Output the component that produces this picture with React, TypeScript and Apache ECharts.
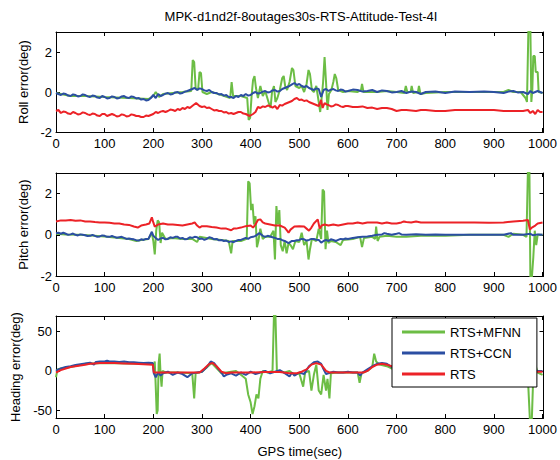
import React, { useEffect, useRef } from "react";
import * as echarts from "echarts";

const FONT = '"Liberation Sans", Arial, Helvetica, sans-serif';

const TITLE = "MPK-d1nd2f-8outages30s-RTS-Attitude-Test-4I";
const SERIES_NAMES = ["RTS+MFNN", "RTS+CCN", "RTS"];
const SERIES_COLORS = ["#6cbd45", "#2b4ea2", "#ec2227"];
const X_TICKS = [0, 100, 200, 300, 400, 500, 600, 700, 800, 900, 1000];
const ATT_TICKS = [-2, 0, 2];
const HEAD_TICKS = [-50, 0, 50];
const Y_NAMES = ["Roll error(deg)", "Pitch error(deg)", "Heading error(deg)"];
const X_NAME = "GPS time(sec)";

// ---- Roll (deg) ----
const rollMFNN = [[0,-0.05],[10,-0.1],[30,-0.2],[60,-0.2],[100,-0.25],[150,-0.3],[190,-0.35],[200,-0.2],[205,0.0],[212,-0.25],[220,-0.1],[240,-0.05],[260,0.0],[278,0.05],[281,1.6],[284,1.5],[287,0.2],[292,0.1],[295,1.0],[298,0.95],[301,0.0],[310,-0.1],[320,0],[340,-0.15],[358,-0.3],[361,0.5],[364,-0.2],[380,-0.2],[393,-0.3],[396,-1.4],[399,-1.3],[402,-0.2],[405,0.6],[408,0.8],[411,0.2],[415,-0.3],[420,0.3],[425,-0.2],[430,0.05],[438,-0.6],[441,-0.8],[444,0.0],[448,0.3],[451,-0.5],[455,-0.3],[460,0.1],[465,0.7],[468,0.8],[471,0.3],[475,0.1],[480,0.5],[485,1.2],[488,1.1],[492,0.3],[500,0.2],[505,0.3],[510,0.0],[515,0.4],[519,1.1],[522,0.9],[526,0.1],[530,0.0],[535,0.3],[540,-0.5],[543,-1.0],[546,-0.3],[549,0.5],[552,1.75],[555,0.5],[558,-0.9],[561,-0.1],[566,0.1],[570,0.5],[573,0.9],[576,0.7],[580,0.1],[590,0.0],[600,0.05],[620,0.0],[627,0.1],[629,0.4],[632,0.0],[660,0.0],[680,0.05],[700,0.0],[716,-0.05],[719,0.3],[722,0.0],[729,0.0],[731,0.3],[734,-0.05],[744,0.0],[746,0.3],[749,-0.1],[760,-0.05],[800,0.0],[850,0.0],[900,0.0],[920,0.0],[930,0.1],[940,0.0],[955,0.0],[965,-0.3],[968,-0.5],[971,3.2],[975,3.2],[977,-0.5],[979,0.1],[981,1.8],[984,1.8],[986,1.0],[990,1.0],[992,0.0],[1000,-0.05]];
const rollCCN = [[0,-0.05],[5,-0.1],[10,-0.15],[15,-0.08],[20,-0.1],[25,-0.18],[30,-0.2],[35,-0.12],[40,-0.15],[45,-0.22],[50,-0.2],[55,-0.12],[60,-0.15],[65,-0.22],[70,-0.25],[75,-0.18],[80,-0.2],[85,-0.28],[90,-0.3],[95,-0.2],[100,-0.25],[105,-0.32],[110,-0.3],[115,-0.22],[120,-0.25],[125,-0.32],[130,-0.3],[135,-0.22],[140,-0.2],[145,-0.28],[150,-0.3],[155,-0.22],[160,-0.25],[165,-0.32],[170,-0.3],[175,-0.38],[180,-0.35],[185,-0.42],[190,-0.4],[195,-0.3],[200,-0.15],[205,-0.3],[210,-0.1],[215,-0.2],[220,-0.15],[225,-0.08],[230,-0.05],[235,-0.12],[240,-0.1],[245,-0.02],[250,0.0],[255,-0.08],[260,-0.05],[265,0.02],[270,0.05],[275,0.1],[280,0.15],[285,0.2],[290,0.1],[295,0.18],[300,0.15],[305,0.08],[310,0.05],[315,0.1],[320,0.0],[325,-0.05],[330,-0.05],[335,-0.12],[340,-0.1],[345,-0.18],[350,-0.15],[355,-0.25],[360,-0.25],[365,-0.3],[370,-0.2],[375,-0.25],[380,-0.15],[385,-0.2],[390,-0.1],[395,-0.18],[400,-0.15],[405,-0.05],[410,0.0],[415,-0.08],[420,-0.05],[425,0.02],[430,0.05],[435,-0.02],[440,0.0],[445,0.08],[450,0.1],[455,0.02],[460,0.05],[465,0.15],[470,0.2],[475,0.25],[480,0.3],[485,0.38],[490,0.45],[495,0.35],[500,0.4],[505,0.3],[510,0.25],[515,0.3],[520,0.2],[525,0.15],[530,0.1],[535,0.18],[540,0.15],[545,-0.25],[550,0.1],[555,0.15],[560,0.05],[565,0.12],[570,0.15],[575,0.08],[580,0.05],[585,0.12],[590,0.1],[595,0.02],[600,0.05],[610,0.12],[620,0.1],[630,0.02],[640,0.05],[650,0.1],[660,0.0],[670,0.08],[680,0.05],[690,-0.02],[700,0.0],[710,0.05],[720,-0.05],[730,0.02],[740,0.0],[750,-0.1],[760,0.0],[780,0.02],[800,-0.05],[820,0.02],[850,0.0],[880,0.02],[900,0.0],[920,-0.05],[930,0.02],[940,0.05],[950,-0.03],[960,0.0],[970,-0.1],[975,0.05],[980,-0.05],[990,0.05],[1000,-0.05]];
const rollRTS = [[0,-0.95],[5,-0.9],[10,-1.05],[15,-0.98],[20,-1.0],[25,-1.08],[30,-1.1],[35,-1.0],[40,-1.05],[45,-1.12],[50,-1.1],[55,-1.02],[60,-1.05],[65,-1.12],[70,-1.15],[75,-1.08],[80,-1.1],[85,-1.18],[90,-1.2],[95,-1.1],[100,-1.1],[105,-1.2],[110,-1.15],[115,-1.1],[120,-1.15],[125,-1.22],[130,-1.2],[135,-1.12],[140,-1.15],[145,-1.22],[150,-1.2],[155,-1.12],[160,-1.15],[165,-1.2],[170,-1.2],[175,-1.25],[180,-1.25],[185,-1.18],[190,-1.2],[195,-1.15],[200,-1.1],[205,-1.0],[210,-1.05],[215,-0.98],[220,-0.95],[225,-1.0],[230,-0.95],[235,-0.88],[240,-0.9],[245,-0.95],[250,-0.85],[255,-0.9],[260,-0.8],[265,-0.85],[270,-0.75],[275,-0.8],[280,-0.7],[288,-0.55],[295,-0.7],[300,-0.75],[305,-0.72],[310,-0.8],[315,-0.78],[320,-0.85],[325,-0.92],[330,-0.9],[335,-0.95],[340,-0.95],[345,-1.02],[350,-1.0],[355,-1.08],[360,-1.05],[365,-1.1],[370,-1.05],[375,-1.0],[380,-1.0],[385,-1.08],[390,-1.1],[398,-1.2],[405,-1.1],[410,-1.0],[415,-0.75],[420,-0.8],[425,-0.72],[430,-0.75],[435,-0.68],[440,-0.7],[445,-0.78],[450,-0.7],[455,-0.85],[460,-0.65],[465,-0.68],[470,-0.6],[475,-0.55],[480,-0.5],[485,-0.45],[490,-0.35],[495,-0.3],[500,-0.4],[505,-0.38],[510,-0.45],[515,-0.42],[520,-0.5],[525,-0.55],[530,-0.6],[535,-0.65],[540,-0.7],[545,-0.4],[548,-0.8],[552,-0.55],[556,-0.62],[560,-0.65],[565,-0.72],[570,-0.7],[575,-0.62],[580,-0.65],[585,-0.72],[590,-0.75],[595,-0.7],[600,-0.7],[610,-0.75],[620,-0.75],[630,-0.72],[640,-0.8],[650,-0.78],[660,-0.85],[670,-0.8],[680,-0.8],[690,-0.85],[700,-0.95],[710,-0.9],[720,-0.9],[730,-0.92],[740,-0.95],[750,-0.9],[760,-0.9],[780,-0.95],[800,-0.95],[820,-0.9],[840,-0.9],[860,-0.9],[880,-0.9],[900,-0.9],[920,-0.95],[940,-0.95],[960,-0.95],[970,-0.9],[975,-1.05],[980,-0.95],[985,-1.1],[990,-0.9],[995,-1.0],[1000,-1.0]];

// ---- Pitch (deg) ----
const pitchMFNN = [[0,0.05],[20,0.02],[50,0.0],[100,-0.08],[150,-0.2],[165,-0.3],[175,-0.25],[190,-0.2],[197,0.1],[200,-0.3],[203,-0.95],[206,0.2],[209,0.7],[212,0.6],[215,-0.4],[218,0.1],[225,-0.2],[240,-0.15],[260,-0.2],[280,-0.2],[290,-0.35],[295,-0.1],[320,-0.2],[340,-0.25],[355,-0.3],[360,-0.9],[363,-0.3],[380,-0.3],[392,-0.2],[395,2.6],[398,2.5],[401,1.2],[404,1.5],[407,0.5],[410,0.9],[413,-0.6],[416,-0.3],[420,0.3],[425,-0.2],[430,-0.1],[440,-0.1],[447,0.2],[450,-1.2],[453,1.4],[456,0.5],[459,1.2],[462,-0.5],[466,-0.8],[470,-0.3],[474,-0.9],[478,-0.4],[482,-0.5],[487,-0.7],[492,-0.3],[500,-0.35],[505,0.1],[510,-0.5],[515,-0.3],[519,-1.2],[522,-0.7],[526,-0.2],[535,-0.3],[540,0.3],[545,-0.2],[548,2.2],[551,2.1],[554,-0.7],[557,0.2],[560,-0.4],[565,-0.3],[575,-0.35],[585,-0.5],[590,-0.25],[610,-0.2],[625,-0.1],[629,-0.6],[633,-0.15],[650,-0.1],[656,-0.2],[658,0.4],[661,-0.3],[665,-0.1],[680,-0.05],[700,-0.1],[720,-0.1],[750,-0.05],[800,-0.05],[850,0.0],[900,0.0],[920,0.0],[930,-0.1],[940,0.05],[960,0.0],[967,-0.1],[970,3.2],[973,3.2],[975,-2.1],[978,-2.1],[981,-1.1],[984,0.2],[987,-0.5],[990,0.0],[1000,0.0]];
const pitchCCN = [[0,0.08],[5,0.1],[10,0.05],[15,0.1],[20,0.05],[25,0.0],[30,0.02],[35,0.06],[40,0.0],[45,-0.03],[50,0.02],[55,0.0],[60,-0.02],[65,-0.06],[70,-0.05],[75,0.0],[80,-0.05],[85,-0.1],[90,-0.08],[95,-0.03],[100,-0.05],[105,-0.1],[110,-0.1],[115,-0.06],[120,-0.1],[125,-0.14],[130,-0.12],[135,-0.1],[140,-0.15],[145,-0.2],[150,-0.18],[155,-0.2],[160,-0.22],[165,-0.26],[170,-0.28],[175,-0.22],[180,-0.25],[185,-0.2],[190,-0.2],[197,0.15],[200,-0.05],[205,-0.15],[210,-0.25],[215,-0.18],[220,-0.15],[225,-0.22],[230,-0.2],[235,-0.12],[240,-0.15],[245,-0.1],[250,-0.1],[255,-0.18],[260,-0.15],[265,-0.22],[270,-0.2],[275,-0.12],[280,-0.15],[285,-0.1],[290,-0.12],[295,-0.2],[300,-0.18],[305,-0.25],[310,-0.2],[315,-0.12],[320,-0.15],[325,-0.22],[330,-0.2],[335,-0.27],[340,-0.25],[345,-0.3],[350,-0.28],[355,-0.35],[360,-0.32],[365,-0.36],[370,-0.3],[375,-0.25],[380,-0.25],[385,-0.2],[390,-0.15],[395,-0.2],[400,-0.12],[405,-0.1],[410,-0.05],[418,0.08],[425,-0.05],[430,-0.1],[435,-0.05],[440,-0.08],[445,-0.12],[450,-0.15],[455,-0.2],[460,-0.2],[465,-0.26],[470,-0.3],[478,-0.4],[485,-0.3],[490,-0.3],[495,-0.26],[500,-0.25],[505,-0.2],[510,-0.22],[515,-0.28],[520,-0.25],[525,-0.2],[530,-0.2],[535,-0.24],[540,-0.25],[545,-0.38],[550,-0.3],[555,-0.25],[560,-0.3],[565,-0.22],[570,-0.25],[575,-0.3],[580,-0.25],[585,-0.2],[590,-0.22],[595,-0.18],[600,-0.2],[610,-0.15],[620,-0.12],[630,-0.1],[640,-0.08],[650,-0.05],[660,0.0],[670,0.02],[675,0.08],[680,0.05],[690,0.0],[700,0.05],[705,0.08],[710,0.02],[720,0.0],[740,0.03],[760,0.0],[780,0.02],[800,0.0],[830,0.0],[860,0.0],[890,0.0],[920,0.0],[935,0.08],[940,0.0],[960,0.0],[975,0.05],[980,-0.02],[990,0.02],[1000,0.0]];
const pitchRTS = [[0,0.65],[10,0.7],[20,0.7],[30,0.72],[40,0.68],[50,0.7],[60,0.65],[70,0.65],[80,0.62],[90,0.6],[100,0.6],[110,0.58],[120,0.55],[130,0.55],[140,0.5],[150,0.48],[160,0.4],[168,0.35],[175,0.45],[185,0.5],[192,0.55],[197,0.85],[200,0.6],[203,0.4],[210,0.5],[220,0.55],[230,0.5],[240,0.5],[250,0.48],[260,0.45],[270,0.5],[280,0.55],[285,0.6],[290,0.45],[295,0.35],[300,0.42],[310,0.42],[320,0.38],[330,0.35],[340,0.3],[350,0.3],[360,0.22],[365,0.3],[370,0.3],[380,0.35],[390,0.42],[400,0.45],[405,0.35],[410,0.5],[415,0.72],[420,0.75],[425,0.6],[430,0.55],[440,0.5],[450,0.45],[460,0.45],[470,0.35],[475,0.2],[478,0.1],[482,0.25],[490,0.4],[500,0.42],[510,0.4],[515,0.3],[520,0.2],[525,0.35],[530,0.55],[538,0.75],[542,0.3],[546,0.45],[552,0.5],[560,0.45],[570,0.5],[580,0.45],[590,0.5],[600,0.55],[610,0.55],[620,0.6],[630,0.55],[640,0.6],[650,0.6],[660,0.6],[670,0.55],[680,0.6],[690,0.55],[700,0.55],[710,0.6],[715,0.65],[720,0.62],[730,0.6],[740,0.65],[750,0.6],[770,0.6],[800,0.6],[830,0.6],[860,0.6],[890,0.58],[920,0.6],[940,0.65],[960,0.68],[970,0.72],[974,0.25],[978,0.35],[985,0.45],[990,0.55],[1000,0.6]];

// ---- Heading (deg) ----
const headMFNN = [[0,-8],[3,2],[10,3],[30,5],[60,9],[100,10],[150,9.5],[199,9],[201,5],[203,12],[205,-20],[207,-55],[209,-50],[211,10],[213,22],[215,-5],[217,-20],[219,0],[225,-2],[250,-2],[280,-3],[284,-35],[287,-3],[300,-1],[320,10],[340,-3],[360,-1],[370,0],[380,-5],[390,-10],[395,-30],[400,-40],[404,-55],[408,-45],[412,-30],[416,-35],[420,-10],[425,0],[435,-2],[445,0],[448,72],[451,72],[454,0],[460,0],[470,-2],[480,0],[490,-5],[500,-3],[508,-20],[512,-2],[520,0],[525,-25],[530,-5],[535,8],[540,-25],[545,-30],[550,-5],[555,-25],[558,-10],[562,-35],[565,-3],[580,-2],[600,-2],[620,-2],[624,-15],[628,-3],[640,0],[650,5],[654,22],[658,12],[665,8],[680,6],[700,0],[720,-2],[800,-2],[900,-2],[960,-2],[970,-10],[974,-62],[978,-62],[981,-5],[985,8],[990,-2],[1000,-5]];
const headCCN = [[0,0],[5,2],[10,3],[20,5],[30,6],[40,7.5],[50,8.5],[60,9.5],[70,10.5],[78,8],[82,11.5],[90,12],[100,12],[105,13],[110,12],[120,12],[130,11.5],[140,12],[150,11],[160,11],[170,10.5],[180,10],[190,10.5],[199,10],[201,-3],[205,-8],[210,-2],[215,-6],[220,-3],[230,-1],[240,-5],[250,-2],[260,-4],[270,-8],[280,-3],[290,-2],[300,-1],[310,5],[318,12],[325,10],[332,4],[340,-2],[345,-7],[350,-5],[360,-3],[370,-6],[380,-2],[390,-5],[400,-1],[410,-4],[420,-2],[430,0],[440,-3],[450,-1],[460,1],[470,-3],[480,-7],[485,-2],[490,-6],[500,-2],[510,-4],[520,6],[530,11],[538,12],[545,9],[550,2],[555,-4],[560,-3],[570,-1],[580,-2],[590,-2],[600,-1],[610,-2],[620,-2],[625,-6],[630,-2],[640,2],[650,6],[660,9],[670,10],[680,9],[690,5],[700,1],[710,-2],[760,-2],[820,-2],[880,-2],[940,-2],[970,-1],[980,2],[990,0],[1000,0]];
const headRTS = [[0,-2],[10,1],[20,3],[30,5],[40,6],[50,7],[60,8],[70,9],[80,9.5],[90,10],[100,10],[120,10],[140,9.5],[160,9],[180,8.5],[199,8],[201,-2],[220,-2],[250,-2],[280,-2],[295,-2],[305,3],[315,9],[322,10],[330,6],[340,-1],[350,-3],[360,-2],[380,-2],[400,-2],[430,-1.5],[460,-1.5],[480,-3],[495,-3],[505,-1],[515,2],[525,8],[535,10],[545,8],[555,0],[562,-2],[580,-2],[600,-2],[620,-2],[632,-2],[640,0],[650,5],[660,8],[670,9],[680,8],[690,6],[700,2],[710,-2],[740,-2],[800,-2],[860,-2],[900,-2],[950,-2],[975,-2],[985,-1],[1000,-1]];

const PLOTS = [
  { data: [rollMFNN, rollCCN, rollRTS], min: -2, max: 3, ticks: ATT_TICKS },
  { data: [pitchMFNN, pitchCCN, pitchRTS], min: -2, max: 3, ticks: ATT_TICKS },
  { data: [headMFNN, headCCN, headRTS], min: -60, max: 70, ticks: HEAD_TICKS },
];

const GRID_TOPS = [32, 173, 316];
const GRID_HEIGHTS = [100, 103, 102];

export default function App() {
  const ref = useRef<HTMLDivElement>(null);
  useEffect(() => {
    if (!ref.current) return;
    const chart = echarts.init(ref.current, undefined, { renderer: "svg" });
    const axisLine = { show: true, onZero: false, lineStyle: { color: "#000", width: 1 } };
    const labelStyle = { color: "#000", fontSize: 13, fontFamily: FONT };
    const xAxes: any[] = [];
    const yAxes: any[] = [];
    PLOTS.forEach((p, i) => {
      xAxes.push({
        type: "value", gridIndex: i, min: 0, max: 1002, position: "bottom",
        axisLine, splitLine: { show: false },
        axisTick: { show: true, inside: true, length: 4, customValues: X_TICKS, lineStyle: { color: "#000" } },
        axisLabel: { ...labelStyle, margin: 5, customValues: X_TICKS, formatter: (v: number) => String(v) },
        name: i === 2 ? X_NAME : "", nameLocation: "middle", nameGap: 27,
        nameTextStyle: { color: "#000", fontSize: 13, fontFamily: FONT },
      });
      yAxes.push({
        type: "value", gridIndex: i, min: p.min, max: p.max, position: "left",
        axisLine, splitLine: { show: false },
        axisTick: { show: true, inside: true, length: 4, customValues: p.ticks, lineStyle: { color: "#000" } },
        axisLabel: { ...labelStyle, margin: 4, customValues: p.ticks, formatter: (v: number) => String(v) },
        name: Y_NAMES[i], nameLocation: "middle", nameGap: 26,
        nameTextStyle: { color: "#000", fontSize: 13, fontFamily: FONT },
      });
    });
    PLOTS.forEach((p, i) => {
      xAxes.push({
        type: "value", gridIndex: i, min: 0, max: 1002, position: "top",
        axisLine, splitLine: { show: false },
        axisTick: { show: true, inside: true, length: 4, customValues: X_TICKS, lineStyle: { color: "#000" } },
        axisLabel: { show: false },
      });
      yAxes.push({
        type: "value", gridIndex: i, min: p.min, max: p.max, position: "right",
        axisLine, splitLine: { show: false },
        axisTick: { show: true, inside: true, length: 4, customValues: p.ticks, lineStyle: { color: "#000" } },
        axisLabel: { show: false },
      });
    });
    const series: any[] = [];
    PLOTS.forEach((p, i) => {
      p.data.forEach((d, k) => {
        series.push({
          type: "line", name: SERIES_NAMES[k], xAxisIndex: i, yAxisIndex: i,
          data: d, showSymbol: false, symbol: "none", clip: true,
          lineStyle: { color: SERIES_COLORS[k], width: 2 },
          itemStyle: { color: SERIES_COLORS[k] },
        });
      });
    });
    chart.setOption({
      animation: false,
      backgroundColor: "#fff",
      textStyle: { fontFamily: FONT },
      grid: PLOTS.map((_, i) => ({ left: 56, right: 13, top: GRID_TOPS[i], height: GRID_HEIGHTS[i] })),
      xAxis: xAxes,
      yAxis: yAxes,
      series,
      legend: {
        data: SERIES_NAMES.map((n) => ({ name: n, icon: "rect" })),
        orient: "vertical", left: 392, top: 318,
        padding: [7, 16, 6, 10], itemGap: 7, itemWidth: 43, itemHeight: 3,
        backgroundColor: "#fff", borderColor: "#000", borderWidth: 1,
        textStyle: { color: "#000", fontSize: 13, fontFamily: FONT, lineHeight: 14, height: 14 },
        selectedMode: false,
      },
      graphic: [
        { type: "text", x: 301, y: 16, style: { text: TITLE, fill: "#000", font: `13px ${FONT}`, textAlign: "center", textVerticalAlign: "middle" } },
      ],
    });
    return () => chart.dispose();
  }, []);
  return <div ref={ref} style={{ position: "fixed", left: 0, top: 0, width: 560, height: 460, background: "#fff" }} />;
}
